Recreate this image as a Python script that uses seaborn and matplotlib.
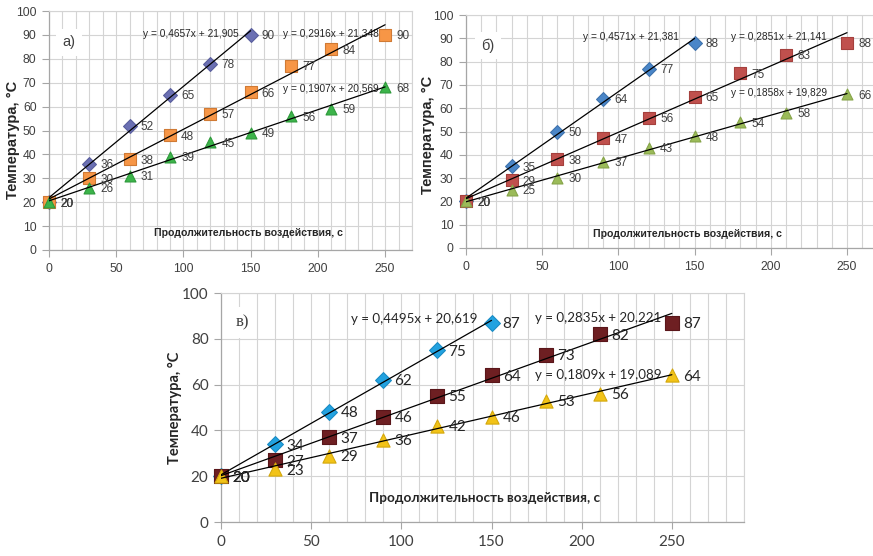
import numpy as np
import pandas as pd
import matplotlib
matplotlib.use("Agg")
import matplotlib.pyplot as plt
import seaborn as sns
from matplotlib import font_manager
from matplotlib.ticker import MultipleLocator

# ---------------- data ----------------
time_all = [0, 30, 60, 90, 120, 150, 180, 210, 250]
time_short = [0, 30, 60, 90, 120, 150]

a_diamond = [20, 36, 52, 65, 78, 90]
a_square = [20, 30, 38, 48, 57, 66, 77, 84, 90]
a_triangle = [20, 26, 31, 39, 45, 49, 56, 59, 68]

b_diamond = [20, 35, 50, 64, 77, 88]
b_square = [20, 29, 38, 47, 56, 65, 75, 83, 88]
b_triangle = [20, 25, 30, 37, 43, 48, 54, 58, 66]

c_diamond = [20, 34, 48, 62, 75, 87]
c_square = [20, 27, 37, 46, 55, 64, 73, 82, 87]
c_triangle = [20, 23, 29, 36, 42, 46, 53, 56, 64]

# trend-line coefficients (slope, intercept) as printed on the chart
a_trends = [(0.4657, 21.905), (0.2916, 21.348), (0.1907, 20.569)]
b_trends = [(0.4571, 21.381), (0.2851, 21.141), (0.1858, 19.829)]
c_trends = [(0.4495, 20.619), (0.2835, 20.221), (0.1809, 19.089)]

panel_labels = ["а)", "б)", "в)"]
x_title = "Продолжительность воздействия, с"
y_title = "Температура, °С"

# ---------------- style ----------------
sns.set_style("white")
names = {f.name for f in font_manager.fontManager.ttflist}
SANS = "Lato" if "Lato" in names else "DejaVu Sans"
plt.rcParams["font.family"] = [SANS, "DejaVu Sans"]

NARROW_FAMILY = "Liberation Sans"

W, H = 873, 556
fig = plt.figure(figsize=(W / 100, H / 100), dpi=100)


def fx(px):
    return px / W


def fy(py):
    return 1 - py / H


def fmt_eq(m, b):
    return ("y = %.4fx + %.3f" % (m, b)).replace(".", ",")


def draw_panel(ax, series, trends, colors, edges, sizes, xmax, ystep,
               family, fs_tick, fs_lab, fs_eq, eq_pos, lab_color, panel_label,
               panel_pos, panel_family, panel_fs):
    ax.set_xlim(0, xmax)
    ax.set_ylim(0, 100)
    ax.xaxis.set_major_locator(MultipleLocator(50))
    ax.xaxis.set_minor_locator(MultipleLocator(10))
    ax.yaxis.set_major_locator(MultipleLocator(ystep))
    ax.grid(True, which="both", axis="x", color="#d4d4d4", lw=0.8)
    ax.grid(True, which="major", axis="y", color="#d4d4d4", lw=0.8)
    ax.set_axisbelow(True)
    for s in ["top", "right"]:
        ax.spines[s].set_color("#d4d4d4")
        ax.spines[s].set_linewidth(0.8)
    for s in ["left", "bottom"]:
        ax.spines[s].set_color("#a6a6a6")
        ax.spines[s].set_linewidth(0.9)
    ax.tick_params(axis="both", which="major", length=5, width=0.8,
                   color="#a6a6a6", direction="out", labelsize=fs_tick,
                   labelfontfamily=family,
                   labelcolor="#404040", pad=4, left=True, bottom=True)
    ax.tick_params(axis="both", which="minor", length=0)

    markers = ["D", "s", "^"]
    for i, ((xs, ys), (m, b)) in enumerate(zip(series, trends)):
        sns.scatterplot(x=xs, y=ys, marker=markers[i], s=sizes[i],
                        color=colors[i], edgecolor=edges[i], linewidth=0.8,
                        ax=ax, zorder=3, legend=False, clip_on=False)
        xt = np.array([0, xs[-1]], dtype=float)
        sns.lineplot(x=xt, y=m * xt + b, color="black", lw=0.9, ax=ax,
                     zorder=4, legend=False)
        for xv, yv in zip(xs, ys):
            ax.annotate(str(yv), (xv, yv), xytext=(8, -1),
                        textcoords="offset points", ha="left", va="center",
                        fontsize=fs_lab, family=family, color=lab_color,
                        zorder=5)
        (ex, ey, ha) = eq_pos[i]
        ax.text(ex, ey, fmt_eq(m, b), ha=ha, va="center", fontsize=fs_eq,
                family=family, color="#262626", zorder=2)
    ax.set_xlabel("")
    ax.set_ylabel("")
    ax.text(panel_pos[0], panel_pos[1], panel_label, ha="left", va="center",
            fontsize=panel_fs, family=panel_family, color="#404040", zorder=2,
            bbox=dict(boxstyle="square,pad=0.45", fc="white", ec="none"))


# ---- panel a ----
ax1 = fig.add_axes([fx(49), fy(250), fx(412 - 49), (250 - 11) / H])
draw_panel(ax1,
           [(time_short, a_diamond), (time_all, a_square), (time_all, a_triangle)],
           a_trends,
           ["#6b70b3", "#f79646", "#3cb44a"],
           ["#5a5f9e", "#d07a34", "#2f9a3c"],
           [50, 80, 62], 270, 10, NARROW_FAMILY, 8.8, 8.5, 7.3,
           [(141, 90.3, "right"), (174, 90.3, "left"), (174, 67.5, "left")],
           "#404040", panel_labels[0], (10, 87), NARROW_FAMILY, 10.5)
ax1.text(148, 7, x_title, ha="center", va="center", fontsize=7.6,
         family=NARROW_FAMILY, fontweight="bold", color="#262626")

# ---- panel b ----
ax2 = fig.add_axes([fx(466), fy(248), 411.5 / W, (248 - 15) / H])
draw_panel(ax2,
           [(time_short, b_diamond), (time_all, b_square), (time_all, b_triangle)],
           b_trends,
           ["#4a86c8", "#c0504d", "#9bbb59"],
           ["#3f73ad", "#a5403d", "#86a449"],
           [50, 80, 62], 270, 10, NARROW_FAMILY, 8.8, 8.5, 7.3,
           [(140, 90.5, "right"), (174, 90.5, "left"), (174, 66.5, "left")],
           "#404040", panel_labels[1], (10, 87), NARROW_FAMILY, 10.5)
ax2.text(145, 6, x_title, ha="center", va="center", fontsize=7.6,
         family=NARROW_FAMILY, fontweight="bold", color="#262626")

# ---- panel c ----
ax3 = fig.add_axes([fx(221), fy(522), (744 - 221) / W, (522 - 293) / H])
ax3.set_zorder(2)
draw_panel(ax3,
           [(time_short, c_diamond), (time_all, c_square), (time_all, c_triangle)],
           c_trends,
           ["#22a2e0", "#6e1f22", "#f2c318"],
           ["#1b8cc4", "#5a161a", "#d4a80c"],
           [65, 110, 90], 290, 20, SANS, 11, 11, 9.6,
           [(142, 88.5, "right"), (174, 89, "left"), (174, 64, "left")],
           "#262626", panel_labels[2], (8, 87), "Liberation Serif", 12)
ax3.text(146, 10.5, x_title, ha="center", va="center", fontsize=9.8,
         family=SANS, fontweight="bold", color="#262626")

# y titles
fig.text(fx(13), fy(140), y_title, rotation=90, ha="center", va="center",
         fontsize=10.5, family="Liberation Sans", fontweight="bold", color="#262626")
fig.text(fx(428), fy(135), y_title, rotation=90, ha="center", va="center",
         fontsize=10.5, family="Liberation Sans", fontweight="bold", color="#262626")
fig.text(fx(175), fy(408), y_title, rotation=90, ha="center", va="center",
         fontsize=10.5, family=SANS, fontweight="bold", color="#262626")

fig.savefig("out.png", dpi=100, facecolor="white")
